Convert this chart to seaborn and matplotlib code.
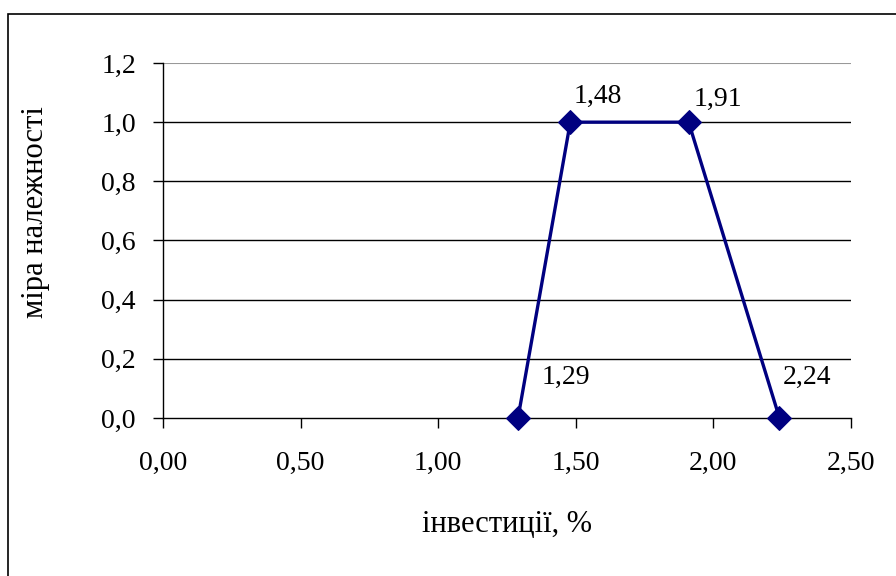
import matplotlib
matplotlib.use("Agg")
import matplotlib.pyplot as plt
import seaborn as sns
import pandas as pd
from matplotlib.ticker import FuncFormatter

# Дані
investments = [1.29, 1.48, 1.91, 2.24]
membership = [0.0, 1.0, 1.0, 0.0]
point_labels = ["1,29", "1,48", "1,91", "2,24"]
label_offsets = [(48, 41), (28, 26), (29, 23), (28, 41)]

df = pd.DataFrame({"x": investments, "y": membership})

sns.set_style("white")
plt.rcParams["font.family"] = ["Liberation Serif", "DejaVu Serif"]
plt.rcParams["text.color"] = "black"
plt.rcParams["axes.labelcolor"] = "black"

fig = plt.figure(figsize=(8.96, 5.76), dpi=100)
ax = fig.add_axes([163 / 896, 1 - 418 / 576, (851 - 163) / 896, (418 - 63) / 576])

# рамка навколо діаграми
fig.patches.append(plt.Rectangle((8 / 896, -0.1), 1.2, 1 - 14 / 576 + 0.1,
                                 transform=fig.transFigure, fill=False,
                                 edgecolor="black", linewidth=1.2))

sns.lineplot(data=df, x="x", y="y", ax=ax, color="#000080", linewidth=2.4,
             marker="D", markersize=12, markeredgecolor="#000080",
             markerfacecolor="#000080", zorder=5, clip_on=False)

for x, y, lab, off in zip(investments, membership, point_labels, label_offsets):
    ax.annotate(lab, (x, y), xytext=off, textcoords="offset pixels",
                ha="center", va="center", fontsize=20, color="black")

ax.set_xlim(0, 2.5)
ax.set_ylim(0, 1.2)
ax.set_xticks([0, 0.5, 1.0, 1.5, 2.0, 2.5])
ax.set_yticks([0, 0.2, 0.4, 0.6, 0.8, 1.0, 1.2])
ax.xaxis.set_major_formatter(FuncFormatter(lambda v, p: f"{v:.2f}".replace(".", ",")))
ax.yaxis.set_major_formatter(FuncFormatter(lambda v, p: f"{v:.1f}".replace(".", ",")))

for yv in [0.2, 0.4, 0.6, 0.8, 1.0]:
    ax.axhline(yv, color="black", linewidth=1.0, zorder=1)
ax.axhline(1.2, color="#999999", linewidth=1.5, zorder=1)

for s in ["top", "right"]:
    ax.spines[s].set_visible(False)
ax.spines["left"].set_color("black")
ax.spines["bottom"].set_color("black")
ax.spines["left"].set_linewidth(1.0)
ax.spines["bottom"].set_linewidth(1.0)

ax.tick_params(axis="both", direction="out", length=7.5, width=1.0, colors="black",
               labelsize=20, left=True, bottom=True)
ax.tick_params(axis="y", pad=12)
ax.tick_params(axis="x", pad=16)

ax.set_xlabel("інвестиції, %", fontsize=22, va="center")
ax.set_ylabel("міра належності", fontsize=22, va="center", ha="center")
ax.xaxis.set_label_coords(0.5, -0.301)
ax.yaxis.set_label_coords(-0.186, 0.58)

fig.savefig("out.png", dpi=100)
